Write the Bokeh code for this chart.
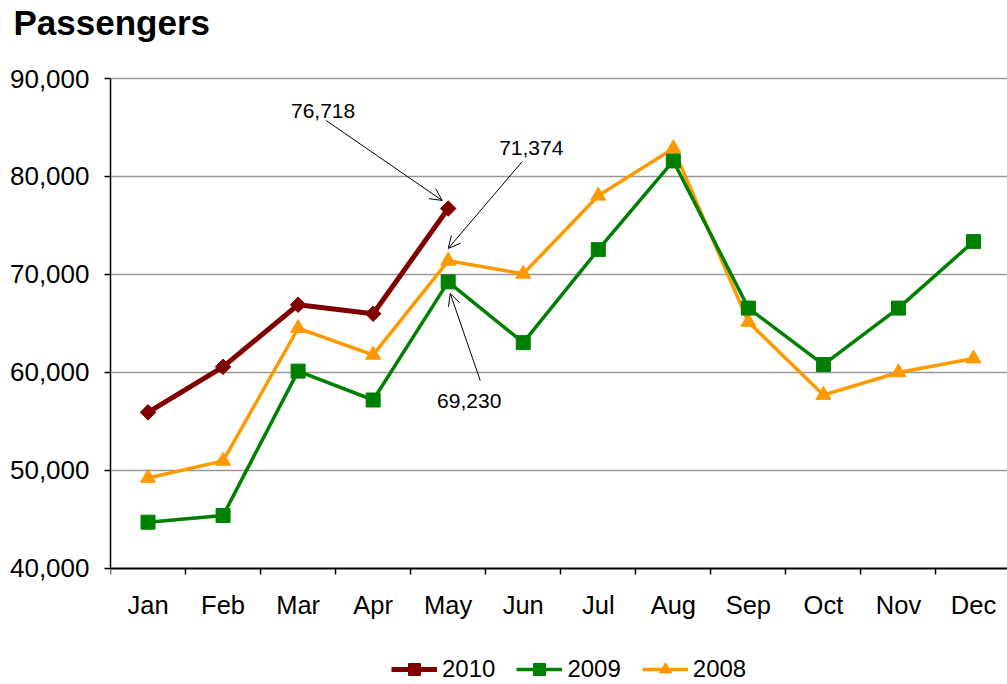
from bokeh.plotting import figure
from bokeh.models import (Range1d, FixedTicker, NumeralTickFormatter, Legend, LegendItem,
                          Arrow, OpenHead, Label)
from bokeh.embed import file_html
from bokeh.resources import INLINE

months = ["Jan", "Feb", "Mar", "Apr", "May", "Jun", "Jul", "Aug", "Sep", "Oct", "Nov", "Dec"]
passengers_2010 = [55900, 60550, 66890, 65970, 76718]
passengers_2009 = [44680, 45360, 60110, 57160, 69230, 63020, 72520, 81580, 66550, 60780, 66550, 73340]
passengers_2008 = [49200, 50940, 64490, 61770, 71374, 70050, 78020, 82860, 65130, 57670, 59970, 61390]
y_ticks = [40000, 50000, 60000, 70000, 80000, 90000]

ann_month = "May"
FONT = "Liberation Sans"

xs = [i + 0.5 for i in range(len(months))]

# The frame spans beyond the 40,000-90,000 axis box (above for the title, below for the
# legend) so nothing is clipped; the x axis is pinned at the 40,000 line.
FRAME_TOP = 44
px_per_unit = 489.5 / (y_ticks[-1] - y_ticks[0])
y_start = y_ticks[0] - 116.5 / px_per_unit
y_end = y_ticks[-1] + (78 - FRAME_TOP) / px_per_unit

p = figure(width=1007, height=684,
           x_range=Range1d(0, 11.953), y_range=Range1d(y_start, y_end),
           min_border_left=110, min_border_right=0, min_border_top=FRAME_TOP, min_border_bottom=0,
           output_backend="svg", toolbar_location=None, title="Passengers")

p.title.text_font = FONT
p.title.text_font_size = "35px"
p.title.text_font_style = "bold"
p.title.text_color = "black"
p.title.align = "left"
p.title.vertical_align = "top"
p.title.offset = -97
p.title.standoff = 2

p.outline_line_color = None
p.background_fill_color = "white"
p.border_fill_color = "white"

# axes
xa = p.xaxis[0]
xa.fixed_location = y_ticks[0]
xa.ticker = FixedTicker(ticks=xs, minor_ticks=list(range(len(months) + 1)))
xa.major_label_overrides = {x: m for x, m in zip(xs, months)}
xa.major_tick_out = 0
xa.major_tick_in = 0
xa.minor_tick_out = 6
xa.minor_tick_in = 0
xa.minor_tick_line_color = "black"
xa.minor_tick_line_width = 1.5
xa.axis_line_color = "black"
xa.axis_line_width = 2
xa.major_label_standoff = 17
xa.major_label_text_font = FONT
xa.major_label_text_font_size = "25.5px"
xa.major_label_text_color = "black"

ya = p.yaxis[0]
ya.bounds = (y_ticks[0], y_ticks[-1])
ya.ticker = FixedTicker(ticks=y_ticks, minor_ticks=[])
ya.formatter = NumeralTickFormatter(format="0,0")
ya.major_tick_out = 6
ya.major_tick_in = 0
ya.major_tick_line_color = "black"
ya.major_tick_line_width = 1.5
ya.minor_tick_out = 0
ya.minor_tick_in = 0
ya.axis_line_color = "black"
ya.axis_line_width = 1.5
ya.major_label_standoff = 15
ya.major_label_text_font = FONT
ya.major_label_text_font_size = "26px"
ya.major_label_text_color = "black"

p.xgrid.visible = False
p.ygrid.ticker = FixedTicker(ticks=y_ticks[1:])
p.ygrid.grid_line_color = "#979797"
p.ygrid.grid_line_width = 1.5

series = [
    ("2010", passengers_2010, "#800000", "square", 11, 0.785398, 5),
    ("2009", passengers_2009, "#008000", "square", 14, 0.0, 3.5),
    ("2008", passengers_2008, "#FF9900", "triangle", 15, 0.0, 3.5),
]

items = []
for name, vals, color, marker, size, ang, lw in reversed(series):
    x = xs[:len(vals)]
    lr = p.line(x, vals, line_color=color, line_width=lw)
    sr = p.scatter(x, vals, marker=marker, size=size, angle=ang,
                   fill_color=color, line_color=color)
    items.append((name, lr, sr))

legend_items = [LegendItem(label=n, renderers=[lr, sr]) for n, lr, sr in reversed(items)]
legend = Legend(items=legend_items, orientation="horizontal", location=(281, 0),
                glyph_width=46, glyph_height=30, label_standoff=5, spacing=21,
                padding=0, margin=0, border_line_color=None, background_fill_alpha=0,
                label_text_font=FONT, label_text_font_size="24px", label_text_color="black")
p.add_layout(legend, "center")

# annotations on May values
mi = months.index(ann_month)
mx = xs[mi]
ann = [
    # value, text_dx, text_dy, tail_dx, tail_dy, head_dx, head_dy
    (passengers_2010[mi], -1.667, 10012, -1.627, 8992, -0.08, 822),
    (passengers_2008[mi], 1.107, 11476, 0.987, 10146, 0.0, 1266),
    (passengers_2009[mi], 0.28, -12220, 0.427, -10080, 0.027, -1190),
]
for v, tdx, tdy, adx, ady, hdx, hdy in ann:
    p.add_layout(Arrow(end=OpenHead(size=12, line_width=1, line_color="black"),
                       x_start=mx + adx, y_start=v + ady, x_end=mx + hdx, y_end=v + hdy,
                       line_width=1, line_color="black"))
    p.add_layout(Label(x=mx + tdx, y=v + tdy, text=f"{v:,}", text_align="center",
                       text_baseline="middle", text_font=FONT, text_font_size="21px",
                       text_color="black"))

open("out.html", "w").write(file_html(p, INLINE))
